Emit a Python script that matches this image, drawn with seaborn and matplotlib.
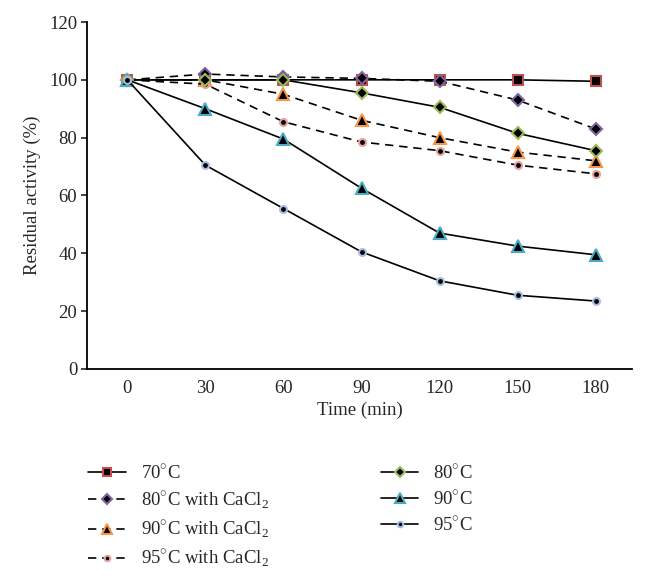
import numpy as np
import pandas as pd
import matplotlib
matplotlib.use('Agg')
import matplotlib.pyplot as plt
import seaborn as sns

sns.set_style('white')
plt.rcParams['font.family'] = ['Liberation Serif', 'DejaVu Serif']
plt.rcParams['mathtext.fontset'] = 'custom'
plt.rcParams['mathtext.rm'] = 'Liberation Serif'

# time points (min)
time = [0, 30, 60, 90, 120, 150, 180]

# residual activity (%) per series
t70 = [100, 100, 100, 100, 100, 100, 99.5]
t80_ca = [100, 102, 101, 100.5, 99.5, 93, 83]
t90_ca = [100, 100, 95, 86, 80, 75, 72]
t95_ca = [100, 98.5, 85.5, 78.5, 75.5, 70.5, 67.5]
t80 = [100, 100, 100, 95.5, 90.5, 81.5, 75.5]
t90 = [100, 90, 79.5, 62.5, 47, 42.5, 39.5]
t95 = [100, 70.5, 55.5, 40.5, 30.5, 25.5, 23.5]

labels = ['70$^{\\circ}$C', '80$^{\\circ}$C with CaCl$_2$', '90$^{\\circ}$C with CaCl$_2$',
          '95$^{\\circ}$C with CaCl$_2$', '80$^{\\circ}$C', '90$^{\\circ}$C', '95$^{\\circ}$C']
series = [t70, t80_ca, t90_ca, t95_ca, t80, t90, t95]

# styling per series
markers = ['s', 'D', '^', 'o', 'D', '^', 'o']
msizes = [7, 6.5, 8.5, 5, 6.5, 8.5, 5]
edges = ['#C0504D', '#8064A2', '#F79646', '#E6A0A0', '#9BBB59', '#4BACC6', '#A9BDE0']
dashed = [False, True, True, True, False, False, False]

fig, ax = plt.subplots(figsize=(6.47, 5.79), dpi=100)
fig.subplots_adjust(left=0.1345, right=0.977, top=0.962, bottom=0.3627)

for vals, lab, m, ms, ec, d in zip(series, labels, markers, msizes, edges, dashed):
    sns.lineplot(x=time, y=vals, ax=ax, color='black', linewidth=1.2,
                 marker=m, markersize=ms, markerfacecolor='black',
                 markeredgecolor=ec, markeredgewidth=1.5,
                 dashes=False, linestyle=(0, (5, 3.5)) if d else '-',
                 label=lab)

ax.set_xlim(-15.5, 194)
ax.set_ylim(0, 120)
ax.set_xticks(time)
ax.set_yticks(np.arange(0, 121, 20))
ax.tick_params(axis='x', length=0, labelsize=13.5, pad=8)
ax.tick_params(axis='y', length=4, width=1.2, direction='out', labelsize=13.5, left=True, pad=3)
for s in ['top', 'right']:
    ax.spines[s].set_visible(False)
for s in ['left', 'bottom']:
    ax.spines[s].set_linewidth(1.3)
    ax.spines[s].set_color('black')
ax.set_xlabel('Time (min)', fontsize=13.5, labelpad=3)
ax.set_ylabel('Residual activity (%)', fontsize=13.5, labelpad=6)

handles, labs = ax.get_legend_handles_labels()
ax.legend_.remove()
fig.legend(handles, labs, ncol=2, loc='upper left', bbox_to_anchor=(0.11, 0.228),
           frameon=False, fontsize=13.5, handlelength=2.0, handletextpad=0.8,
           columnspacing=6.0, labelspacing=0.36, markerscale=0.8)

fig.savefig('out.png', dpi=100)
